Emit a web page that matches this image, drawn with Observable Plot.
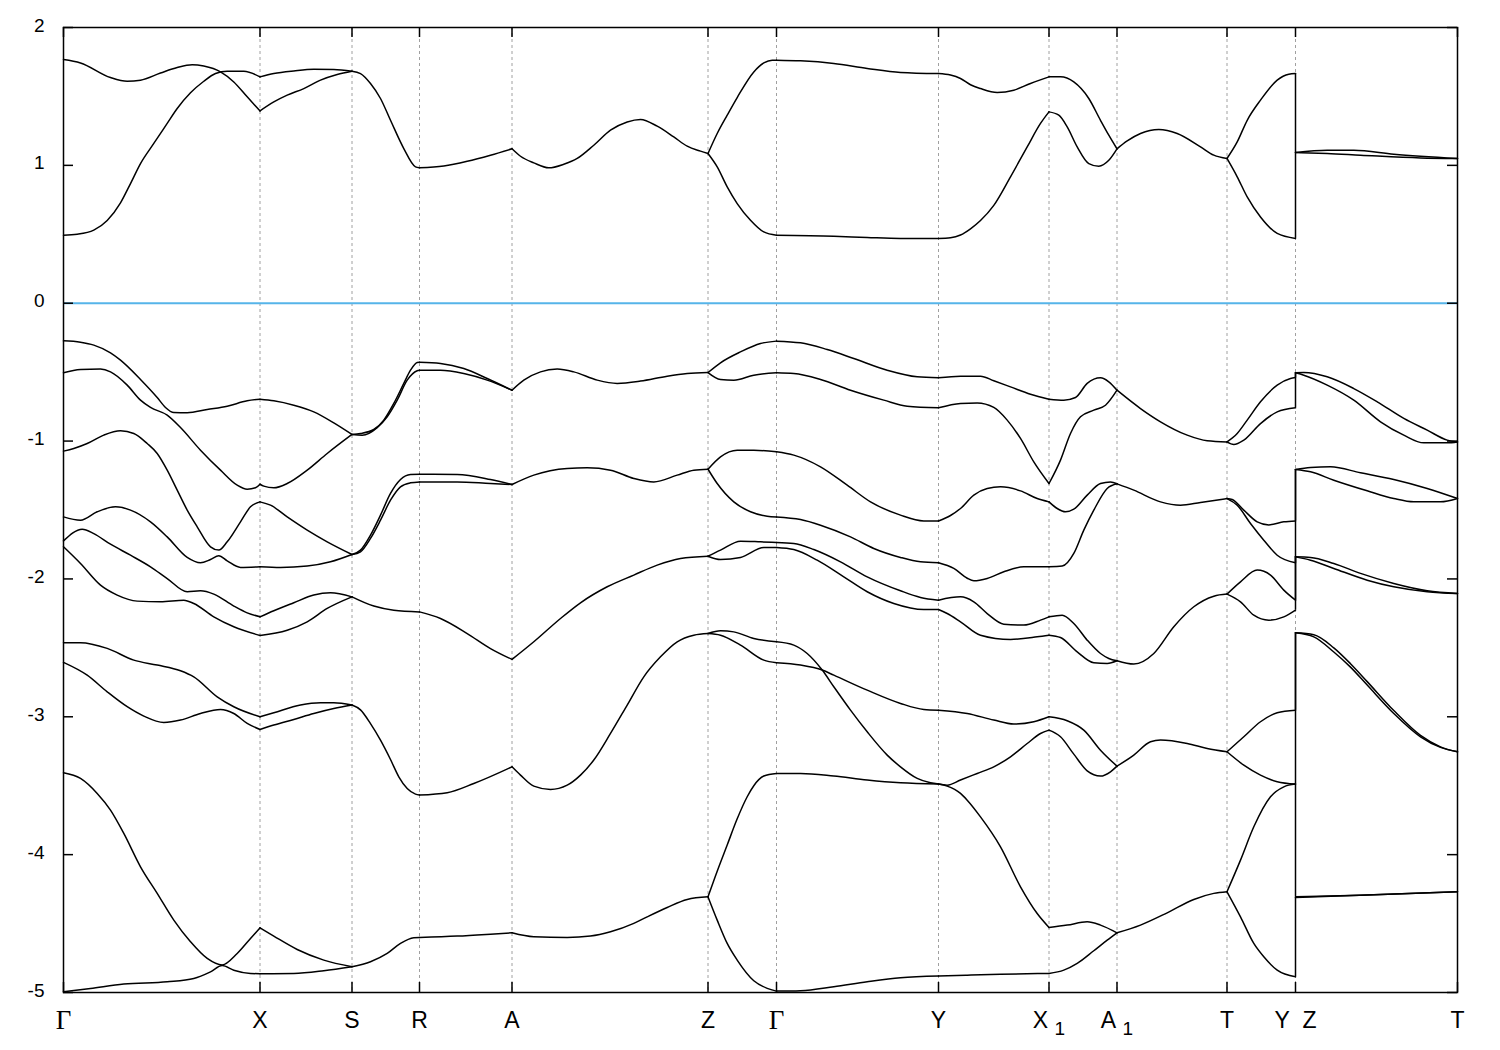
<!DOCTYPE html>
<html><head><meta charset="utf-8">
<script src="https://cdn.jsdelivr.net/npm/d3@7"></script>
<script src="https://cdn.jsdelivr.net/npm/@observablehq/plot@0.6"></script>
<style>body{margin:0;background:#fff}</style>
</head><body><div id="chart"></div>
<script>
// High-symmetry points along the k-path (path length units) and their labels
const kTicks = [0, 196.5, 288.5, 356, 448.5, 644.5, 713, 875, 985.5, 1053.5, 1163.5, 1232, 1394];
const kLabels = ["Γ", "X", "S", "R", "A", "Z", "Γ", "Y", "X_1", "A_1", "T", "Y\u00a0\u00a0Z", "T"];
const eTicks = [2, 1, 0, -1, -2, -3, -4, -5];
const eDomain = [-5, 2];
const fermiLevel = [0];

// Bands, one array per path segment; each curve is a list of [k, E (eV)]
const segGX = [
  [[0,1.768],[17,1.743],[47,1.637],[63.7,1.61],[77,1.618],[97,1.67],[113.7,1.71],[128.7,1.73],[140.3,1.72],[157,1.678],[170.3,1.605],[183.7,1.497],[196.5,1.395]],
  [[0,0.493],[13.7,0.5],[30.3,0.53],[43.7,0.6],[57,0.728],[67,0.868],[77,1.013],[90.3,1.159],[103.7,1.304],[113.7,1.412],[127,1.526],[140.3,1.61],[152,1.666],[163.7,1.683],[180.3,1.683],[196.5,1.642]],
  [[0,-0.273],[17,-0.283],[30.3,-0.304],[47,-0.36],[57,-0.413],[77,-0.553],[93.7,-0.684],[102,-0.756],[110.3,-0.793],[123.7,-0.795],[143.7,-0.771],[163.7,-0.747],[183.7,-0.708],[196.5,-0.696]],
  [[0,-0.505],[17,-0.481],[37,-0.478],[47,-0.498],[63.7,-0.594],[77,-0.703],[87,-0.756],[103.7,-0.812],[117,-0.902],[137,-1.066],[157,-1.211],[173.7,-1.32],[183.7,-1.349],[192,-1.339],[196.5,-1.313]],
  [[0,-1.073],[10.3,-1.054],[23.7,-1.018],[40.3,-0.957],[57,-0.926],[70.3,-0.945],[83.7,-1.018],[93.7,-1.09],[103.7,-1.211],[113.7,-1.356],[123.7,-1.501],[133.7,-1.622],[147,-1.767],[155.3,-1.791],[163.7,-1.731],[177,-1.586],[187,-1.477],[196.5,-1.441]],
  [[0,-1.55],[17,-1.574],[33.7,-1.513],[52,-1.477],[67,-1.501],[87,-1.586],[103.7,-1.695],[123.7,-1.844],[137,-1.883],[147,-1.859],[155.3,-1.832],[163.7,-1.869],[177,-1.917],[196.5,-1.912]],
  [[0,-1.724],[18.7,-1.639],[30.3,-1.671],[47,-1.748],[67,-1.828],[87,-1.912],[103.7,-1.997],[123.7,-2.093],[137,-2.086],[150.3,-2.11],[170.3,-2.197],[183.7,-2.246],[196.5,-2.275]],
  [[0,-1.767],[17,-1.888],[37,-2.045],[53.7,-2.117],[73.7,-2.161],[97,-2.166],[120.3,-2.154],[130.3,-2.178],[150.3,-2.275],[170.3,-2.347],[196.5,-2.41]],
  [[0,-2.463],[17,-2.463],[43.7,-2.504],[70.3,-2.589],[93.7,-2.625],[117,-2.666],[130.3,-2.71],[153.7,-2.855],[170.3,-2.927],[196.5,-3.0]],
  [[0,-2.605],[23.7,-2.698],[43.7,-2.819],[63.7,-2.927],[80.3,-2.995],[100.3,-3.041],[117,-3.024],[137,-2.976],[157,-2.947],[170.3,-2.976],[183.7,-3.048],[196.5,-3.092]],
  [[0,-3.406],[17,-3.447],[33.7,-3.556],[47,-3.677],[60.3,-3.846],[77,-4.088],[93.7,-4.281],[110.3,-4.475],[127,-4.632],[143.7,-4.753],[158.7,-4.8],[173.7,-4.717],[187,-4.608],[196.5,-4.531]],
  [[0,-4.995],[27,-4.971],[60.3,-4.939],[103.7,-4.922],[130.3,-4.898],[147,-4.85],[158.7,-4.805],[170.3,-4.838],[187,-4.862],[196.5,-4.864]]
];
const segXS = [
  [[196.5,1.642],[210.3,1.666],[230.3,1.685],[250.3,1.697],[270.3,1.695],[288.5,1.683]],
  [[196.5,1.395],[210.3,1.46],[223.7,1.509],[240.3,1.557],[257,1.618],[273.7,1.659],[288.5,1.683]],
  [[196.5,-0.696],[210.3,-0.708],[230.3,-0.74],[250.3,-0.788],[270.3,-0.868],[288.5,-0.952]],
  [[196.5,-1.313],[200.3,-1.327],[210.3,-1.339],[223.7,-1.308],[243.7,-1.211],[263.7,-1.09],[288.5,-0.952]],
  [[196.5,-1.441],[207,-1.465],[223.7,-1.55],[243.7,-1.646],[263.7,-1.731],[288.5,-1.823]],
  [[196.5,-1.912],[217,-1.917],[243.7,-1.907],[267,-1.876],[288.5,-1.823]],
  [[196.5,-2.275],[210.3,-2.231],[230.3,-2.173],[250.3,-2.117],[267,-2.101],[288.5,-2.13]],
  [[196.5,-2.41],[223.7,-2.372],[243.7,-2.311],[263.7,-2.214],[288.5,-2.13]],
  [[196.5,-3.0],[210.3,-2.971],[237,-2.915],[257,-2.899],[270.3,-2.899],[288.5,-2.915]],
  [[196.5,-3.092],[210.3,-3.06],[230.3,-3.019],[250.3,-2.976],[270.3,-2.94],[288.5,-2.915]],
  [[196.5,-4.531],[210.3,-4.591],[233.7,-4.688],[260.3,-4.765],[288.5,-4.813]],
  [[196.5,-4.864],[230.3,-4.862],[260.3,-4.842],[288.5,-4.813]]
];
const segSR = [
  [[288.5,1.683],[297,1.666],[307,1.594],[317,1.485],[327,1.327],[340.3,1.122],[352,0.989],[356,0.982]],
  [[288.5,-0.952],[297,-0.945],[310.3,-0.916],[320.3,-0.848],[330.3,-0.727],[340.3,-0.582],[347,-0.486],[353.7,-0.43],[356,-0.428]],
  [[288.5,-0.952],[298.7,-0.957],[313.7,-0.902],[323.7,-0.824],[333.7,-0.703],[343.7,-0.558],[353.7,-0.49],[356,-0.486]],
  [[288.5,-1.823],[297,-1.791],[307,-1.682],[317,-1.537],[327,-1.38],[337,-1.279],[347,-1.242],[356,-1.24]],
  [[288.5,-1.823],[297,-1.803],[307,-1.706],[317,-1.574],[327,-1.429],[337,-1.332],[347,-1.303],[356,-1.296]],
  [[288.5,-2.13],[310.3,-2.197],[330.3,-2.227],[356,-2.239]],
  [[288.5,-2.915],[297,-2.95],[307,-3.05],[317,-3.17],[327,-3.31],[335.3,-3.435],[343.7,-3.52],[352,-3.561],[356,-3.568]],
  [[288.5,-4.813],[307,-4.777],[323.7,-4.717],[337,-4.644],[350.3,-4.603],[356,-4.601]]
];
const segRA = [
  [[356,0.982],[380.3,0.996],[403.7,1.03],[427,1.074],[448.5,1.12]],
  [[356,-0.428],[377,-0.437],[400.3,-0.474],[423.7,-0.546],[448.5,-0.631]],
  [[356,-0.486],[377,-0.486],[400.3,-0.51],[423.7,-0.558],[448.5,-0.631]],
  [[356,-1.24],[393.7,-1.242],[427,-1.279],[448.5,-1.315]],
  [[356,-1.296],[393.7,-1.296],[427,-1.308],[448.5,-1.315]],
  [[356,-2.239],[377,-2.287],[403.7,-2.396],[427,-2.505],[448.5,-2.584]],
  [[356,-3.568],[383.7,-3.551],[410.3,-3.484],[448.5,-3.363]],
  [[356,-4.601],[393.7,-4.591],[427,-4.577],[448.5,-4.567]]
];
const segAZ = [
  [[448.5,1.12],[457,1.066],[470.3,1.018],[485.3,0.982],[500.3,1.008],[513.7,1.05],[530.3,1.146],[547,1.255],[563.7,1.315],[577,1.333],[593.7,1.284],[610.3,1.206],[623.7,1.139],[637,1.103],[644.5,1.086]],
  [[448.5,-0.631],[460.3,-0.558],[477,-0.498],[493.7,-0.478],[510.3,-0.498],[533.7,-0.558],[553.7,-0.582],[577,-0.565],[603.7,-0.529],[623.7,-0.51],[644.5,-0.503]],
  [[448.5,-1.315],[470.3,-1.247],[503.7,-1.199],[523.7,-1.194],[547,-1.211],[570.3,-1.271],[590.3,-1.296],[613.7,-1.247],[630.3,-1.211],[644.5,-1.204]],
  [[448.5,-2.584],[470.3,-2.456],[497,-2.287],[517,-2.173],[543.7,-2.057],[570.3,-1.972],[593.7,-1.9],[617,-1.852],[644.5,-1.835]],
  [[448.5,-3.363],[457,-3.423],[470.3,-3.503],[487,-3.527],[503.7,-3.496],[517,-3.423],[530.3,-3.314],[547,-3.121],[563.7,-2.915],[580.3,-2.71],[597,-2.565],[613.7,-2.456],[630.3,-2.408],[644.5,-2.396]],
  [[448.5,-4.567],[470.3,-4.596],[503.7,-4.601],[527,-4.591],[547,-4.56],[570.3,-4.499],[583.7,-4.451],[603.7,-4.383],[623.7,-4.325],[644.5,-4.306]]
];
const segZG = [
  [[644.5,1.086],[653.7,1.231],[663.7,1.364],[673.7,1.492],[690.3,1.678],[700.3,1.743],[708.7,1.763],[713,1.763]],
  [[644.5,1.086],[653.7,0.989],[663.7,0.844],[673.7,0.723],[687,0.602],[700.3,0.517],[713,0.493]],
  [[644.5,-0.503],[657,-0.432],[677,-0.353],[697,-0.292],[713,-0.275]],
  [[644.5,-0.503],[657,-0.553],[670.3,-0.558],[690.3,-0.522],[713,-0.505]],
  [[644.5,-1.204],[657,-1.114],[673.7,-1.066],[690.3,-1.066],[713,-1.078]],
  [[644.5,-1.204],[653.7,-1.308],[670.3,-1.441],[687,-1.513],[703.7,-1.545],[713,-1.55]],
  [[644.5,-1.835],[657,-1.791],[677,-1.726],[697,-1.731],[713,-1.736]],
  [[644.5,-1.835],[657,-1.859],[677,-1.844],[700.3,-1.772],[713,-1.772]],
  [[644.5,-2.396],[657,-2.376],[670.3,-2.384],[690.3,-2.432],[713,-2.456]],
  [[644.5,-2.396],[657,-2.408],[677,-2.48],[700.3,-2.589],[713,-2.608]],
  [[644.5,-4.306],[653.7,-4.12],[663.7,-3.93],[673.7,-3.74],[683.7,-3.58],[690.3,-3.5],[700.3,-3.43],[713,-3.411]],
  [[644.5,-4.306],[653.7,-4.475],[663.7,-4.644],[673.7,-4.765],[690.3,-4.915],[703.7,-4.97],[713,-4.99]]
];
const segGY = [
  [[713,1.763],[737,1.758],[770.3,1.739],[803.7,1.703],[837,1.674],[875,1.666]],
  [[713,0.493],[770.3,0.486],[803.7,0.477],[837,0.47],[875,0.47]],
  [[713,-0.275],[737,-0.287],[763.7,-0.336],[790.3,-0.401],[823.7,-0.486],[853.7,-0.534],[875,-0.541]],
  [[713,-0.505],[730.3,-0.51],[757,-0.553],[787,-0.631],[820.3,-0.703],[843.7,-0.747],[875,-0.759]],
  [[713,-1.078],[730.3,-1.102],[757,-1.187],[783.7,-1.32],[807,-1.441],[837,-1.537],[860.3,-1.579],[875,-1.58]],
  [[713,-1.55],[737,-1.569],[757,-1.61],[787,-1.695],[810.3,-1.779],[837,-1.844],[857,-1.876],[875,-1.883]],
  [[713,-1.736],[730.3,-1.743],[750.3,-1.787],[777,-1.876],[803.7,-1.985],[837,-2.086],[857,-2.134],[875,-2.154]],
  [[713,-1.772],[730.3,-1.787],[753.7,-1.864],[780.3,-1.985],[803.7,-2.093],[830.3,-2.178],[860.3,-2.222],[875,-2.222]],
  [[713,-2.456],[730.3,-2.48],[743.7,-2.541],[758.7,-2.661],[770.3,-2.782],[787,-2.952],[803.7,-3.109],[823.7,-3.278],[837,-3.363],[853.7,-3.447],[867,-3.479],[875,-3.488]],
  [[713,-2.608],[737,-2.625],[758.7,-2.661],[770.3,-2.698],[803.7,-2.807],[837,-2.903],[860.3,-2.947],[875,-2.952]],
  [[713,-3.411],[737,-3.411],[770.3,-3.43],[803.7,-3.459],[837,-3.479],[875,-3.488]],
  [[713,-4.99],[737,-4.987],[770.3,-4.958],[803.7,-4.922],[837,-4.893],[875,-4.881]]
];
const segYX1 = [
  [[875,1.666],[887,1.655],[897,1.63],[907,1.585],[917,1.557],[933.7,1.528],[950.3,1.545],[967,1.594],[985.5,1.642]],
  [[875,0.47],[887,0.475],[897,0.495],[907,0.54],[917,0.6],[930.3,0.71],[947,0.917],[963.7,1.134],[977,1.304],[985.5,1.388]],
  [[875,-0.541],[897,-0.529],[917,-0.529],[930.3,-0.563],[947,-0.607],[967,-0.66],[985.5,-0.696]],
  [[875,-0.759],[897,-0.727],[913.7,-0.723],[930.3,-0.756],[943.7,-0.848],[957,-0.981],[970.3,-1.151],[985.5,-1.308]],
  [[875,-1.58],[887,-1.54],[897,-1.489],[910.3,-1.392],[923.7,-1.344],[937,-1.332],[957,-1.361],[973.7,-1.417],[985.5,-1.441]],
  [[875,-1.883],[890.3,-1.924],[903.7,-1.995],[910.3,-2.014],[923.7,-1.997],[940.3,-1.948],[960.3,-1.912],[985.5,-1.912]],
  [[875,-2.154],[897,-2.13],[910.3,-2.166],[923.7,-2.251],[940.3,-2.328],[960.3,-2.335],[977,-2.299],[985.5,-2.275]],
  [[875,-2.222],[883.7,-2.251],[897,-2.311],[917,-2.408],[947,-2.439],[973.7,-2.42],[985.5,-2.408]],
  [[875,-2.952],[903.7,-2.976],[930.3,-3.024],[950.3,-3.053],[970.3,-3.036],[985.5,-3.0]],
  [[875,-3.488],[883.7,-3.496],[897,-3.459],[913.7,-3.411],[930.3,-3.363],[947,-3.29],[963.7,-3.194],[977,-3.121],[985.5,-3.097]],
  [[875,-3.488],[883.7,-3.503],[897,-3.556],[903.7,-3.605],[917,-3.726],[937,-3.943],[957,-4.233],[973.7,-4.427],[985.5,-4.528]],
  [[875,-4.881],[903.7,-4.874],[937,-4.867],[985.5,-4.862]]
];
const segX1A1 = [
  [[985.5,1.642],[997,1.642],[1010.3,1.605],[1025.3,1.485],[1037,1.327],[1045.3,1.219],[1053.5,1.12]],
  [[985.5,1.388],[995.3,1.364],[1003.7,1.279],[1013.7,1.134],[1025.3,1.013],[1035.3,0.994],[1045.3,1.037],[1053.5,1.12]],
  [[985.5,-0.696],[1000.3,-0.703],[1012,-0.684],[1023.7,-0.582],[1037,-0.541],[1045.3,-0.57],[1053.5,-0.631]],
  [[985.5,-1.308],[997,-1.138],[1007,-0.945],[1017,-0.824],[1030.3,-0.776],[1042,-0.74],[1053.5,-0.631]],
  [[985.5,-1.441],[993.7,-1.489],[1002,-1.513],[1010.3,-1.494],[1023.7,-1.392],[1037,-1.308],[1047,-1.296],[1053.5,-1.31]],
  [[985.5,-1.912],[998.7,-1.907],[1010.3,-1.815],[1020.3,-1.646],[1030.3,-1.501],[1043.7,-1.344],[1053.5,-1.31]],
  [[985.5,-2.275],[998.7,-2.263],[1010.3,-2.323],[1023.7,-2.444],[1037,-2.541],[1045.3,-2.577],[1053.5,-2.594]],
  [[985.5,-2.408],[997,-2.425],[1013.7,-2.529],[1030.3,-2.608],[1043.7,-2.613],[1053.5,-2.594]],
  [[985.5,-3.0],[1003.7,-3.029],[1020.3,-3.097],[1037,-3.242],[1053.5,-3.358]],
  [[985.5,-3.097],[997,-3.145],[1010.3,-3.271],[1023.7,-3.392],[1037,-3.43],[1047,-3.399],[1053.5,-3.358]],
  [[985.5,-4.528],[1003.7,-4.511],[1023.7,-4.487],[1037,-4.511],[1053.5,-4.567]],
  [[985.5,-4.862],[1000.3,-4.838],[1013.7,-4.789],[1030.3,-4.697],[1043.7,-4.62],[1053.5,-4.567]]
];
const segA1T = [
  [[1053.5,1.12],[1063.7,1.177],[1077,1.231],[1095.3,1.26],[1113.7,1.231],[1137,1.134],[1150.3,1.074],[1163.5,1.05]],
  [[1053.5,-0.631],[1077,-0.764],[1097,-0.86],[1123.7,-0.957],[1143.7,-0.998],[1163.5,-1.006]],
  [[1053.5,-1.31],[1070.3,-1.356],[1097,-1.441],[1117,-1.465],[1137,-1.445],[1163.5,-1.417]],
  [[1053.5,-2.594],[1070.3,-2.618],[1090.3,-2.541],[1110.3,-2.347],[1130.3,-2.202],[1150.3,-2.125],[1163.5,-2.11]],
  [[1053.5,-3.358],[1070.3,-3.278],[1087,-3.181],[1097,-3.169],[1123.7,-3.194],[1143.7,-3.23],[1163.5,-3.254]],
  [[1053.5,-4.567],[1077,-4.511],[1103.7,-4.422],[1130.3,-4.325],[1150.3,-4.281],[1163.5,-4.269]]
];
const segTY = [
  [[1163.5,1.05],[1173.7,1.17],[1183.7,1.327],[1197,1.473],[1213.7,1.618],[1225.3,1.661],[1232,1.666]],
  [[1163.5,1.05],[1173.7,0.917],[1183.7,0.771],[1197,0.626],[1213.7,0.506],[1232,0.47]],
  [[1163.5,-1.006],[1173.7,-0.945],[1183.7,-0.848],[1197,-0.715],[1213.7,-0.594],[1227,-0.546],[1232,-0.539]],
  [[1163.5,-1.006],[1170.3,-1.025],[1180.3,-0.993],[1197,-0.873],[1213.7,-0.788],[1232,-0.759]],
  [[1163.5,-1.417],[1168.7,-1.424],[1180.3,-1.501],[1193.7,-1.586],[1205.3,-1.608],[1220.3,-1.586],[1232,-1.579]],
  [[1163.5,-1.417],[1173.7,-1.465],[1187,-1.598],[1200.3,-1.719],[1213.7,-1.828],[1232,-1.883]],
  [[1163.5,-2.11],[1177,-2.021],[1193.7,-1.936],[1207,-1.972],[1220.3,-2.081],[1232,-2.154]],
  [[1163.5,-2.11],[1177,-2.166],[1190.3,-2.263],[1205.3,-2.299],[1220.3,-2.275],[1232,-2.226]],
  [[1163.5,-3.254],[1180.3,-3.145],[1197,-3.036],[1213.7,-2.971],[1232,-2.952]],
  [[1163.5,-3.254],[1180.3,-3.351],[1197,-3.423],[1213.7,-3.471],[1232,-3.488]],
  [[1163.5,-4.269],[1177,-4.04],[1190.3,-3.798],[1207,-3.58],[1220.3,-3.508],[1232,-3.488]],
  [[1163.5,-4.269],[1177,-4.451],[1190.3,-4.644],[1200.3,-4.741],[1213.7,-4.838],[1232,-4.886]]
];
const segZT = [
  [[1232,1.093],[1263.7,1.11],[1290.3,1.11],[1330.3,1.081],[1394,1.05]],
  [[1232,1.093],[1263.7,1.086],[1297,1.074],[1357,1.054],[1394,1.05]],
  [[1232,-0.505],[1240.3,-0.503],[1263.7,-0.534],[1290.3,-0.619],[1313.7,-0.715],[1340.3,-0.836],[1363.7,-0.921],[1383.7,-0.993],[1394,-1.006]],
  [[1232,-0.505],[1240.3,-0.522],[1263.7,-0.594],[1290.3,-0.703],[1317,-0.86],[1340.3,-0.957],[1360.3,-1.013],[1383.7,-1.013],[1394,-1.006]],
  [[1232,-1.206],[1247,-1.192],[1267,-1.187],[1297,-1.23],[1330.3,-1.279],[1363.7,-1.344],[1394,-1.417]],
  [[1232,-1.206],[1247,-1.223],[1270.3,-1.284],[1303.7,-1.361],[1330.3,-1.417],[1350.3,-1.441],[1377,-1.441],[1394,-1.417]],
  [[1232,-1.84],[1247,-1.844],[1270.3,-1.888],[1297,-1.96],[1330.3,-2.033],[1363.7,-2.086],[1394,-2.106]],
  [[1232,-1.84],[1247,-1.864],[1270.3,-1.924],[1303.7,-2.009],[1330.3,-2.057],[1363.7,-2.093],[1394,-2.106]],
  [[1232,-2.391],[1250.3,-2.42],[1270.3,-2.53],[1287,-2.64],[1303.7,-2.77],[1330.3,-2.976],[1357,-3.145],[1377,-3.222],[1394,-3.254]],
  [[1232,-2.391],[1250.3,-2.405],[1270.3,-2.5],[1287,-2.615],[1303.7,-2.745],[1330.3,-2.955],[1357,-3.135],[1377,-3.218],[1394,-3.254]],
  [[1232,-4.306],[1297,-4.294],[1394,-4.269]],
  [[1232,-4.31],[1317,-4.29],[1394,-4.269]]
];

const segments = [segGX, segXS, segSR, segRA, segAZ, segZG, segGY, segYX1, segX1A1, segA1T, segTY, segZT];
const rows = [];
segments.forEach((seg, s) => seg.forEach((curve, c) =>
  curve.forEach(([k, e]) => rows.push({k, e, id: s + "-" + c}))));

// band jumps at the Y|Z discontinuity: pair sorted energies of both sides
const kJump = kTicks[11];
const leftEnds = segTY.map(c => c[c.length - 1][1]).sort((a, b) => a - b);
const rightStarts = segZT.map(c => c[0][1]).sort((a, b) => a - b);
const jumps = leftEnds.map((e, i) => ({k: kJump, e1: e, e2: rightStarts[i]}));

const W = 1500, H = 1050, mL = 63, mR = 43, mT = 27, mB = 58;
const kMax = kTicks[kTicks.length - 1];
const kpp = kMax / (W - mL - mR);
const epp = (eDomain[1] - eDomain[0]) / (H - mT - mB);
const tickLen = 10;

const chart = Plot.plot({
  width: W, height: H,
  marginLeft: mL, marginRight: mR, marginTop: mT, marginBottom: mB,
  x: {domain: [0, kMax], axis: null},
  y: {domain: eDomain, axis: null},
  style: {fontFamily: "'Liberation Sans', Arial, sans-serif", fontSize: "20px", color: "black", background: "white", overflow: "visible"},
  marks: [
    Plot.ruleX(kTicks.slice(1, -1), {stroke: "#a0a0a0", strokeDasharray: "3,3", strokeWidth: 1}),
    Plot.ruleY(fermiLevel, {stroke: "#56b4e9", strokeWidth: 2}),
    Plot.line(rows, {x: "k", y: "e", z: "id", curve: "monotone-x", stroke: "black", strokeWidth: 1.5}),
    Plot.ruleX(jumps, {x: "k", y1: "e1", y2: "e2", stroke: "black", strokeWidth: 1.5}),
    Plot.ruleY(eTicks, {x1: 0, x2: tickLen * kpp, stroke: "black", strokeWidth: 1.5}),
    Plot.ruleY(eTicks, {x1: kMax - tickLen * kpp, x2: kMax, stroke: "black", strokeWidth: 1.5}),
    Plot.ruleX(kTicks, {y1: eDomain[0], y2: eDomain[0] + tickLen * epp, stroke: "black", strokeWidth: 1.5}),
    Plot.ruleX(kTicks, {y1: eDomain[1] - tickLen * epp, y2: eDomain[1], stroke: "black", strokeWidth: 1.5}),
    Plot.frame({stroke: "black", strokeWidth: 1.5}),
    Plot.text(eTicks, {x: 0, y: d => d, text: d => String(d), textAnchor: "end", dx: -19, dy: -2, fontSize: 19, fill: "black"}),
    Plot.text(kTicks, {x: d => d, y: eDomain[0], text: (d, i) => kLabels[i], dy: 28, fontSize: 23, fill: "black"})
  ]
});
document.getElementById("chart").appendChild(chart);

// subscripts and symbol-font Gamma in the k-point labels
d3.select(chart).selectAll("text").each(function() {
  const t = d3.select(this);
  const s = t.text();
  if (s.includes("_")) {
    const [main, sub] = s.split("_");
    t.text(main + "\u00a0");
    t.append("tspan").attr("dy", "0.35em").attr("font-size", 19).text(sub);
  } else if (s === "Γ") {
    t.attr("font-family", "'Liberation Serif', 'DejaVu Serif', serif").attr("font-size", 27);
  }
});
</script>
</body></html>
